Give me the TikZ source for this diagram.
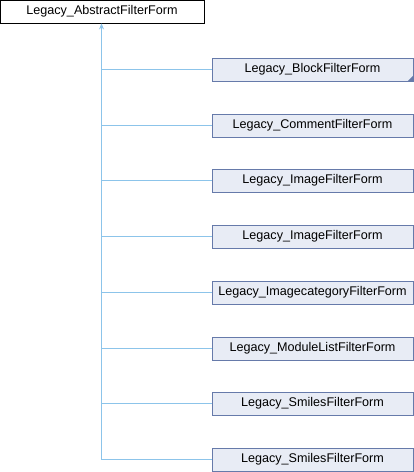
\documentclass[tikz,border=0pt]{standalone}
\usepackage{fontspec}
\setmainfont{Liberation Sans}
\usetikzlibrary{positioning,arrows.meta}

\definecolor{boxfill}{RGB}{232,236,245}
\definecolor{boxline}{RGB}{102,122,170}
\definecolor{edgeline}{RGB}{140,196,234}

\begin{document}
\begin{tikzpicture}[x=1pt,y=-1pt,>={Stealth[length=6pt,width=5pt]}]
\tikzset{
  clsbox/.style={rectangle, draw=boxline, fill=boxfill, line width=0.9pt, minimum width=201pt, minimum height=23pt, inner sep=0pt, font=\fontsize{12.6}{14}\selectfont},
  basebox/.style={rectangle, draw=black, fill=white, line width=0.9pt, minimum width=204pt, minimum height=23pt, inner sep=0pt, font=\fontsize{12.6}{14}\selectfont},
  inherit/.style={draw=edgeline, line width=0.9pt}
}
\useasboundingbox (0,0) rectangle (414,472);

% Clase base
\node (abstract) [basebox] at (102,11.5) {Legacy\_AbstractFilterForm};

% Clases derivadas
\node (block) [clsbox] at (312.5,69.5) {Legacy\_BlockFilterForm};
\node (comment) [clsbox] at (312.5,125.5) {Legacy\_CommentFilterForm};
\node (imageA) [clsbox] at (312.5,180.5) {Legacy\_ImageFilterForm};
\node (imageB) [clsbox] at (312.5,236.5) {Legacy\_ImageFilterForm};
\node (imagecat) [clsbox] at (312.5,292.5) {Legacy\_ImagecategoryFilterForm};
\node (modlist) [clsbox] at (312.5,348.5) {Legacy\_ModuleListFilterForm};
\node (smilesA) [clsbox] at (312.5,403.5) {Legacy\_SmilesFilterForm};
\node (smilesB) [clsbox] at (312.5,459.5) {Legacy\_SmilesFilterForm};

% Esquina marcada de la clase truncada
\fill [boxline] (block.south east) -- ++(0,-6) -- ++(-6,6) -- cycle;

% Tronco de herencia
\coordinate (trunk) at (101.5,459.5);
\draw [inherit, ->] (trunk) -- (abstract.south -| trunk);
\draw [inherit] (block.west) -- (block.west -| trunk);
\draw [inherit] (comment.west) -- (comment.west -| trunk);
\draw [inherit] (imageA.west) -- (imageA.west -| trunk);
\draw [inherit] (imageB.west) -- (imageB.west -| trunk);
\draw [inherit] (imagecat.west) -- (imagecat.west -| trunk);
\draw [inherit] (modlist.west) -- (modlist.west -| trunk);
\draw [inherit] (smilesA.west) -- (smilesA.west -| trunk);
\draw [inherit] (smilesB.west) -- (trunk);
\end{tikzpicture}
\end{document}
